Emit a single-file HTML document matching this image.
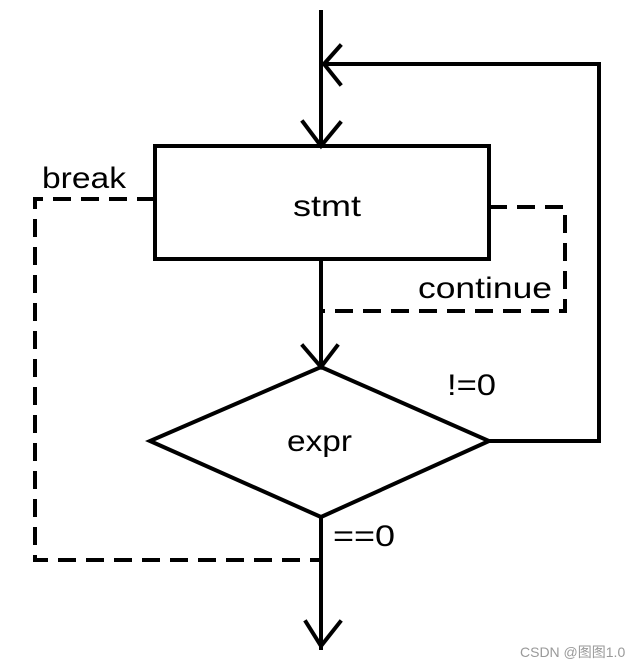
<!DOCTYPE html>
<html><head><meta charset="utf-8"><style>
html,body{margin:0;padding:0;background:#fff;}
svg{display:block;}
text{font-family:"Liberation Sans","Noto Sans CJK SC",sans-serif;fill:#000;}
</style></head><body>
<svg width="642" height="662" viewBox="0 0 642 662" xmlns="http://www.w3.org/2000/svg">
<g stroke="#000" stroke-width="4" fill="none" stroke-linecap="square">
<line x1="321" y1="12" x2="321" y2="145"/>
<polyline points="321,64 599,64 599,441"/>
<polyline points="340,46 324,64 340,84"/>
<polyline points="303,122 321,146 340,123"/>
<rect x="155" y="146" width="334" height="113"/>
<line x1="321" y1="259" x2="321" y2="367"/>
<polyline points="303,346 321,367 337,346"/>
<polygon points="321,367 489,441 321,517 150,441"/>
<line x1="489" y1="441" x2="599" y2="441"/>
<line x1="321" y1="517" x2="321" y2="648"/>
<polyline points="306,622 321,646 340,622"/>
</g>
<g stroke="#000" stroke-width="4" fill="none" stroke-dasharray="18,10">
<polyline points="155,199 35,199 35,560 321,560"/>
<polyline points="489,207 565,207 565,311 321,311"/>
</g>
<text x="42" y="188" font-size="30" textLength="84" lengthAdjust="spacingAndGlyphs">break</text>
<text x="293" y="216" font-size="30" textLength="68" lengthAdjust="spacingAndGlyphs">stmt</text>
<text x="418" y="298" font-size="30" textLength="134" lengthAdjust="spacingAndGlyphs">continue</text>
<text x="287" y="451" font-size="30" textLength="65" lengthAdjust="spacingAndGlyphs">expr</text>
<text x="447" y="395" font-size="30" textLength="49" lengthAdjust="spacingAndGlyphs">!=0</text>
<text x="333" y="546" font-size="30" textLength="62" lengthAdjust="spacingAndGlyphs">==0</text>
<text x="520" y="657" font-size="14" style="fill:#999">CSDN @图图1.0</text>
</svg>
</body></html>
